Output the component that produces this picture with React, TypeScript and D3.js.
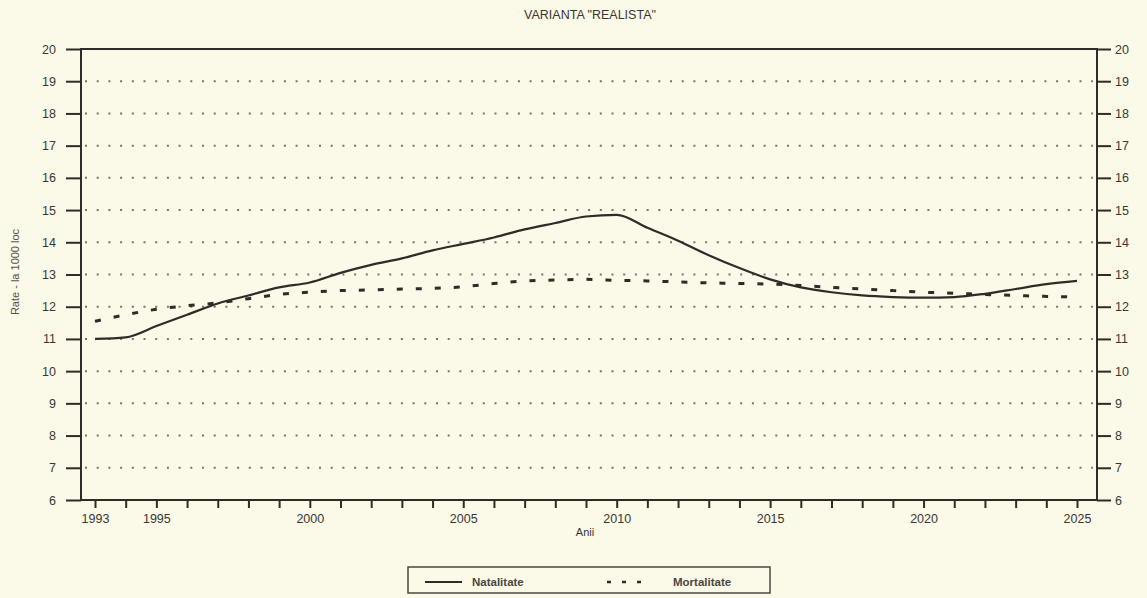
import React, { useEffect, useRef } from "react";
import * as d3 from "d3";

const years = [
  1993, 1994, 1995, 1996, 1997, 1998, 1999, 2000, 2001, 2002, 2003, 2004, 2005,
  2006, 2007, 2008, 2009, 2010, 2011, 2012, 2013, 2014, 2015, 2016, 2017, 2018,
  2019, 2020, 2021, 2022, 2023, 2024, 2025,
];

const natalitate = [
  11.0, 11.05, 11.4, 11.75, 12.1, 12.35, 12.6, 12.75, 13.05, 13.3, 13.5, 13.75,
  13.95, 14.15, 14.4, 14.6, 14.8, 14.85, 14.45, 14.05, 13.6, 13.2, 12.85, 12.6,
  12.45, 12.35, 12.3, 12.28, 12.3, 12.4, 12.55, 12.7, 12.8,
];

const mortalitate = [
  11.55, 11.75, 11.92, 12.03, 12.12, 12.25, 12.38, 12.45, 12.5, 12.52, 12.55,
  12.57, 12.62, 12.72, 12.8, 12.83, 12.85, 12.82, 12.8, 12.77, 12.74, 12.72,
  12.7, 12.66, 12.6, 12.55, 12.5, 12.45, 12.42, 12.38, 12.35, 12.32, 12.3,
];

const yTicks = [6, 7, 8, 9, 10, 11, 12, 13, 14, 15, 16, 17, 18, 19, 20];
const gridValues = [7, 8, 9, 10, 11, 12, 13, 14, 15, 16, 17, 18, 19];
const xLabelYears = [1993, 1995, 2000, 2005, 2010, 2015, 2020, 2025];

const title = 'VARIANTA "REALISTA"';
const yTitle = "Rate - la 1000 loc";
const xTitle = "Anii";
const seriesNames = ["Natalitate", "Mortalitate"];

const W = 1147;
const H = 598;
const ink = "#2f2c28";
const font = "'Liberation Sans', Arial, sans-serif";

export default function App() {
  const ref = useRef<SVGSVGElement>(null);

  useEffect(() => {
    const svg = d3.select(ref.current);
    svg.selectAll("*").remove();

    const left = 81;
    const right = 1097;
    const top = 49;
    const bottom = 500;

    const x = d3.scaleLinear().domain([1993, 2025]).range([95, 1077]);
    const y = d3.scaleLinear().domain([6, 20]).range([bottom, top]);

    svg.append("rect").attr("width", W).attr("height", H).attr("fill", "#fbf9e7");

    // title
    svg
      .append("text")
      .attr("x", 590)
      .attr("y", 19)
      .attr("text-anchor", "middle")
      .attr("font-family", font)
      .attr("font-size", 12.5)
      .attr("fill", "#3a3733")
      .text(title);

    // dotted grid
    svg
      .append("g")
      .selectAll("line")
      .data(gridValues)
      .enter()
      .append("line")
      .attr("x1", left + 4)
      .attr("x2", right - 4)
      .attr("y1", (d) => y(d))
      .attr("y2", (d) => y(d))
      .attr("stroke", "#77746e")
      .attr("stroke-width", 2)
      .attr("stroke-dasharray", "2,9.7");

    // frame
    svg
      .append("rect")
      .attr("x", left)
      .attr("y", top)
      .attr("width", right - left)
      .attr("height", bottom - top)
      .attr("fill", "none")
      .attr("stroke", ink)
      .attr("stroke-width", 2);

    // left axis
    const yLeft = svg
      .append("g")
      .attr("transform", `translate(${left},0)`)
      .call(d3.axisLeft(y).tickValues(yTicks).tickSize(15).tickPadding(10).tickFormat(d3.format("d")));
    // right axis
    const yRight = svg
      .append("g")
      .attr("transform", `translate(${right},0)`)
      .call(d3.axisRight(y).tickValues(yTicks).tickSize(14).tickPadding(4).tickFormat(d3.format("d")));
    // bottom axis
    const xAxis = svg
      .append("g")
      .attr("transform", `translate(0,${bottom})`)
      .call(
        d3
          .axisBottom(x)
          .tickValues(years)
          .tickSize(8)
          .tickPadding(6)
          .tickFormat((d) => (xLabelYears.includes(+d) ? String(d) : ""))
      );

    [yLeft, yRight, xAxis].forEach((g) => {
      g.select(".domain").remove();
      g.selectAll("line").attr("stroke", ink).attr("stroke-width", 2);
      g.selectAll("text")
        .attr("font-family", font)
        .attr("font-size", 12.5)
        .attr("fill", "#3a3733");
    });

    // axis titles
    svg
      .append("text")
      .attr("transform", `translate(19,272) rotate(-90)`)
      .attr("text-anchor", "middle")
      .attr("font-family", font)
      .attr("font-size", 11)
      .attr("fill", "#55524d")
      .text(yTitle);

    svg
      .append("text")
      .attr("x", 585)
      .attr("y", 536)
      .attr("text-anchor", "middle")
      .attr("font-family", font)
      .attr("font-size", 11)
      .attr("fill", "#3a3733")
      .text(xTitle);

    const line = (vals: number[]) =>
      d3
        .line<number>()
        .x((d, i) => x(years[i]))
        .y((d) => y(d))
        .curve(d3.curveMonotoneX)(vals);

    svg
      .append("path")
      .attr("d", line(mortalitate))
      .attr("fill", "none")
      .attr("stroke", ink)
      .attr("stroke-width", 3)
      .attr("stroke-dasharray", "6,13");

    svg
      .append("path")
      .attr("d", line(natalitate))
      .attr("fill", "none")
      .attr("stroke", ink)
      .attr("stroke-width", 2.2);

    // legend
    const lg = svg.append("g");
    lg.append("rect")
      .attr("x", 408)
      .attr("y", 567)
      .attr("width", 362)
      .attr("height", 26)
      .attr("fill", "none")
      .attr("stroke", "#4a4742")
      .attr("stroke-width", 1.5);
    lg.append("line")
      .attr("x1", 425)
      .attr("x2", 462)
      .attr("y1", 582)
      .attr("y2", 582)
      .attr("stroke", ink)
      .attr("stroke-width", 2);
    lg.append("line")
      .attr("x1", 607)
      .attr("x2", 652)
      .attr("y1", 582)
      .attr("y2", 582)
      .attr("stroke", ink)
      .attr("stroke-width", 2.5)
      .attr("stroke-dasharray", "4,11");
    lg.selectAll("text")
      .data(seriesNames)
      .enter()
      .append("text")
      .attr("x", (d, i) => (i === 0 ? 472 : 673))
      .attr("y", 586)
      .attr("font-family", font)
      .attr("font-size", 11.5)
      .attr("font-weight", "bold")
      .attr("fill", "#4a4742")
      .text((d) => d);
  }, []);

  return (
    <svg
      ref={ref}
      width={W}
      height={H}
      style={{ position: "absolute", left: 0, top: 0, display: "block" }}
    />
  );
}
